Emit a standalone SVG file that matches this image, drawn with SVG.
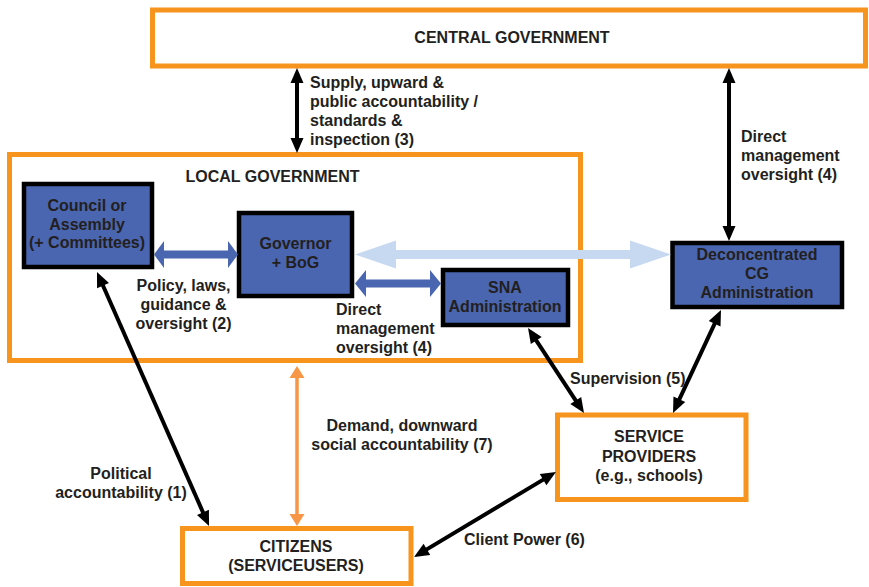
<svg xmlns="http://www.w3.org/2000/svg" width="869" height="587" viewBox="0 0 869 587">
  <style>
    text { font-family: "Liberation Sans", Arial, sans-serif; font-weight: bold; font-size: 16px; fill: #231F20; }
    .mid { text-anchor: middle; }
    .obox { fill: #FFFFFF; stroke: #F7941D; stroke-width: 5; }
    .bbox { fill: #4A66B0; stroke: #000000; stroke-width: 4.5; }
    .blk { stroke: #000000; stroke-width: 4; fill: none; marker-start: url(#ah); marker-end: url(#ah); }
    .org { stroke: #F79646; stroke-width: 3.5; fill: none; marker-start: url(#ao); marker-end: url(#ao); }
    .blue { fill: #4A66B0; }
    .lblue { fill: #C6D9F1; }
  </style>
  <defs>
    <marker id="ah" markerUnits="userSpaceOnUse" markerWidth="15" markerHeight="13" refX="7" refY="6.5" orient="auto-start-reverse" overflow="visible">
      <path d="M0,0 L15,6.5 L0,13 z" fill="#000000"/>
    </marker>
    <marker id="ao" markerUnits="userSpaceOnUse" markerWidth="12" markerHeight="15" refX="5" refY="7.5" orient="auto-start-reverse" overflow="visible">
      <path d="M0,0 L12,7.5 L0,15 z" fill="#F79646"/>
    </marker>
  </defs>

  <rect width="869" height="587" fill="#FFFFFF"/>

  <g id="central-government">
    <rect class="obox" x="152.5" y="10" width="713" height="56"/>
    <text class="mid" x="512" y="43">CENTRAL GOVERNMENT</text>
  </g>

  <g id="local-government">
    <rect class="obox" x="9.5" y="154.5" width="571" height="206"/>
    <text class="mid" x="272.5" y="182">LOCAL GOVERNMENT</text>
  </g>

  <g id="council">
    <rect class="bbox" x="24" y="184" width="128" height="83"/>
    <text class="mid" x="87" y="211">Council or</text>
    <text class="mid" x="87" y="229.5">Assembly</text>
    <text class="mid" x="87" y="248">(+ Committees)</text>
  </g>

  <g id="governor">
    <rect class="bbox" x="239" y="213" width="113" height="83"/>
    <text class="mid" x="295.5" y="249">Governor</text>
    <text class="mid" x="295.5" y="268">+ BoG</text>
  </g>

  <g id="sna-administration">
    <rect class="bbox" x="443" y="270" width="125" height="55"/>
    <text class="mid" x="505" y="293">SNA</text>
    <text class="mid" x="505" y="312">Administration</text>
  </g>

  <g id="deconcentrated-cg">
    <rect class="bbox" x="672.5" y="243" width="169.5" height="64"/>
    <text class="mid" x="757" y="260">Deconcentrated</text>
    <text class="mid" x="757" y="279">CG</text>
    <text class="mid" x="757" y="298">Administration</text>
  </g>

  <g id="service-providers">
    <rect class="obox" x="557.5" y="415" width="188.5" height="84.5"/>
    <text class="mid" x="649" y="442">SERVICE</text>
    <text class="mid" x="649" y="462">PROVIDERS</text>
    <text class="mid" x="649" y="481">(e.g., schools)</text>
  </g>

  <g id="citizens">
    <rect class="obox" x="182.5" y="528.5" width="228.5" height="55"/>
    <text class="mid" x="296" y="552">CITIZENS</text>
    <text class="mid" x="296" y="571">(SERVICEUSERS)</text>
  </g>

  <g id="connectors">
    <!-- (3) central <-> local -->
    <line class="blk" x1="297" y1="76" x2="297" y2="145"/>
    <!-- (4) central <-> deconcentrated -->
    <line class="blk" x1="729" y1="76" x2="729" y2="233"/>
    <!-- (1) political accountability -->
    <line class="blk" x1="100.2" y1="279.3" x2="205.8" y2="518.7"/>
    <!-- (6) client power -->
    <line class="blk" x1="420.9" y1="552.9" x2="549.1" y2="476.1"/>
    <!-- (5) supervision SNA -->
    <line class="blk" x1="532.4" y1="334.7" x2="579.6" y2="406.3"/>
    <!-- (5) supervision deconcentrated -->
    <line class="blk" x1="717.6" y1="317.3" x2="676.4" y2="405.7"/>
    <!-- (7) demand -->
    <line class="org" x1="297" y1="373" x2="297" y2="519"/>
    <!-- (2) council <-> governor -->
    <polygon class="blue" points="154,254.5 164,241 164,250.5 228,250.5 228,241 238,254.5 228,268 228,258.5 164,258.5 164,268"/>
    <!-- governor <-> SNA -->
    <polygon class="blue" points="355,283.5 366,270 366,279.5 430,279.5 430,270 441,283.5 430,297 430,287.5 366,287.5 366,297"/>
    <!-- governor <-> deconcentrated -->
    <polygon class="lblue" points="355,254.5 396,240.5 396,250 630,250 630,240.5 671,254.5 630,268.5 630,259 396,259 396,268.5"/>
  </g>

  <g id="labels">
    <text x="310" y="88">Supply, upward &amp;</text>
    <text x="310" y="107">public accountability /</text>
    <text x="310" y="126">standards &amp;</text>
    <text x="310" y="145">inspection (3)</text>

    <text x="741" y="142">Direct</text>
    <text x="741" y="161">management</text>
    <text x="741" y="180">oversight (4)</text>

    <text class="mid" x="183.5" y="291">Policy, laws,</text>
    <text class="mid" x="183.5" y="310">guidance &amp;</text>
    <text class="mid" x="183.5" y="329">oversight (2)</text>

    <text x="336" y="315">Direct</text>
    <text x="336" y="334">management</text>
    <text x="336" y="353">oversight (4)</text>

    <text x="570" y="384">Supervision (5)</text>

    <text class="mid" x="402" y="431">Demand, downward</text>
    <text class="mid" x="402" y="450">social accountability (7)</text>

    <text class="mid" x="121" y="479">Political</text>
    <text class="mid" x="121" y="498">accountability (1)</text>

    <text x="464" y="545">Client Power (6)</text>
  </g>
</svg>
